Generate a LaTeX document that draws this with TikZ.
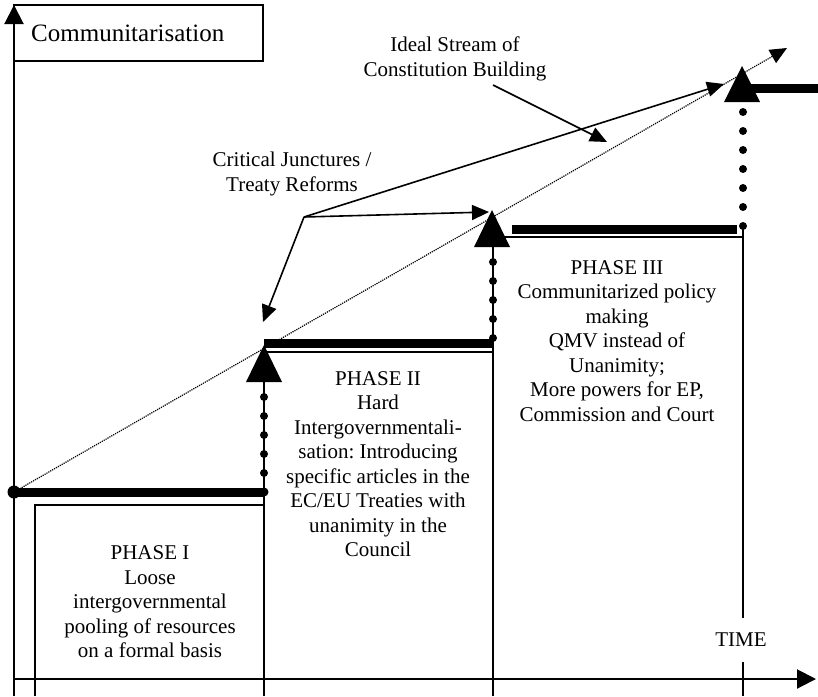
\documentclass[tikz,border=0pt]{standalone}
\usepackage{fontspec}
\setmainfont{Liberation Serif}
\usetikzlibrary{arrows.meta,positioning}
\frenchspacing

\begin{document}
\begin{tikzpicture}[x=1pt,y=-1pt,
	txt/.style={font=\fontsize{21}{24.5}\selectfont,align=center,inner sep=0pt},
	thinline/.style={line width=1.3pt},
	stepline/.style={line width=9pt},
	pointer/.style={line width=1.6pt,-{Triangle[length=17pt,width=15pt]}},
	axisline/.style={line width=2pt,-{Triangle[length=19pt,width=19pt]}}]
	\useasboundingbox (0,0) rectangle (818,696);
	
	% Axis
	\coordinate (ybot) at (14,696);
	\coordinate (ytop) at (14,5);
	\coordinate (xleft) at (14,679);
	\coordinate (xright) at (816,679);
	\draw[axisline] (ybot) -- (ytop);
	\draw[axisline] (xleft) -- (xright);
	\draw[thinline] (14,5) rectangle (263,61);
	\node[anchor=west,inner sep=0pt,font=\fontsize{25}{30}\selectfont] (comm) at (31,33) {Communitarisation};
	
	% Phase boxes
	\draw[thinline] (35,696) -- (35,505) -- (264,505);
	\draw[thinline] (264,696) -- (264,352) -- (493,352);
	\draw[thinline] (493,696) -- (493,247);
	\draw[thinline] (493,237) -- (743,237);
	\draw[thinline] (743,618) -- (743,225);
	\draw[thinline] (743,662) -- (743,696);
	
	% Steps
	\draw[stepline] (14,492) -- (264,492);
	\fill (14,492) circle (6.5pt);
	\fill (264,492) circle (4.5pt);
	\draw[stepline] (264,343) -- (492,343);
	\draw[stepline] (512,229) -- (737,229);
	\draw[stepline] (750,88) -- (818,88);
	
	% Junctures
	\fill (264,345) -- ++(18,37) -- ++(-36,0) -- cycle;
	\fill (492,210) -- ++(18,37) -- ++(-36,0) -- cycle;
	\fill (742,66) -- ++(18,36) -- ++(-36,0) -- cycle;
	\foreach \y in {397,416,...,478} \fill (264,\y) circle (4pt);
	\foreach \y in {262,281,300,319,338} \fill (493,\y) circle (4pt);
	\foreach \y in {112,131,...,226} \fill (743,\y) circle (4pt);
	
	% Ideal stream
	\coordinate (ideal) at (787,48);
	\draw[densely dotted,line width=1.2pt,-{Triangle[length=17pt,width=15pt]}] (14,492) -- (ideal);
	\node[txt] (stream) at (455,59) {Ideal Stream of\\Constitution Building};
	\coordinate (streamfrom) at (493,85);
	\coordinate (streamto) at (607,142);
	\draw[pointer] (streamfrom) -- (streamto);
	
	% Critical junctures
	\node[txt] (critical) at (292,174) {Critical Junctures /\\Treaty Reforms};
	\coordinate (cj) at (304,217);
	\coordinate (cjone) at (263,322);
	\coordinate (cjtwo) at (489,212);
	\coordinate (cjthree) at (724,84);
	\draw[pointer] (cj) -- (cjone);
	\draw[pointer] (cj) -- (cjtwo);
	\draw[pointer] (cj) -- (cjthree);
	
	% Nodes
	\node[txt] (phaseI) at (150,602) {PHASE I\\Loose\\intergovernmental\\pooling of resources\\on a formal basis};
	\node[txt] (phaseII) at (378,464) {PHASE II\\Hard\\Intergovernmentali-\\sation: Introducing\\specific articles in the\\EC/EU Treaties with\\unanimity in the\\Council};
	\node[txt] (phaseIII) at (617,341) {PHASE III\\Communitarized policy\\making\\QMV instead of\\Unanimity;\\More powers for EP,\\Commission and Court};
	\node[txt] (time) at (741,640) {TIME};
\end{tikzpicture}
\end{document}
